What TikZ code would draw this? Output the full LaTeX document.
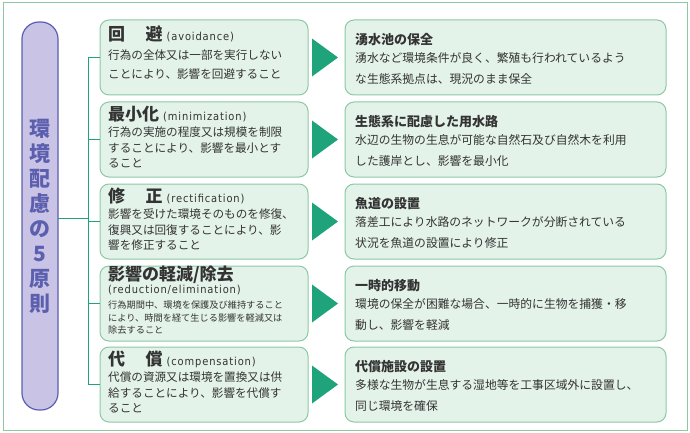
\documentclass[tikz,border=0pt]{standalone}
\usepackage{fontspec}
\setmainfont{Noto Sans CJK JP}
\newfontfamily\latn{DejaVu Sans Condensed}
\begin{document}
\begin{tikzpicture}[x=1pt,y=-1pt,
  bx/.style={draw=boxline,fill=boxfill,rounded corners=9pt,line width=1pt},
  tri/.style={fill=trig,draw=none},
  tl/.style={anchor=north west,inner sep=0pt,text=txt,align=left},
  ln/.style={draw=trig,line width=1pt}]
\definecolor{boxline}{HTML}{8CC8A4}
\definecolor{boxfill}{HTML}{E4F3E9}
\definecolor{trig}{HTML}{1FA37A}
\definecolor{txt}{HTML}{333333}
\definecolor{pur}{HTML}{5C5FAE}
\definecolor{purfill}{HTML}{C9C3E6}
\useasboundingbox (0,0) rectangle (690,433);
\draw[draw=boxline,line width=1pt] (3,3) rectangle (687,430);
\draw[draw=pur,fill=purfill,rounded corners=17pt,line width=1.2pt] (22,22) rectangle (58,410);
\node[text=pur,align=center,font=\bfseries\fontsize{21}{25}\selectfont] (title) at (40,216) {環\\境\\配\\慮\\の\\5\\原\\則};
\coordinate (j) at (88,218);
\coordinate (jt) at (88,58);
\coordinate (jb) at (88,384);
\draw[ln] (58,218) -- (j);
\draw[ln] (jt) -- (jb);
\foreach \i/\t in {1/20,2/102,3/184,4/266,5/347}{
  \pgfmathsetmacro{\b}{\t+75}
  \pgfmathsetmacro{\c}{\t+37.5}
  \draw[bx] (100,\t) rectangle (308,\b);
  \draw[bx] (345,\t) rectangle (666,\b);
  \fill[tri] (312,\c-19) -- (338,\c) -- (312,\c+19) -- cycle;
  \draw[ln] (88,\c) -- (100,\c);
}
\tikzset{bs/.style={font=\fontsize{11.6}{15.5}\selectfont},
 bsl/.style={font=\fontsize{11.6}{19}\selectfont},
 rb/.style={font=\fontsize{11.8}{21}\selectfont},
 rh/.style={font=\bfseries\fontsize{13}{16}\selectfont}}
\def\hs{\bfseries\fontsize{17}{19}\selectfont}
\def\en#1{{\latn\fontsize{11}{13}\selectfont\addfontfeature{LetterSpace=8}\ (#1)}}
% left
\node[tl] (l1h) at (108,26) {{\hs 回\hspace{1.2em}避}\en{avoidance}};
\node[tl,bsl] (l1b) at (108,50) {行為の全体又は一部を実行しない\\ことにより、影響を回避すること};
\node[tl] (l2h) at (108,106) {{\hs 最小化}\en{minimization}};
\node[tl,bs] (l2b) at (108,127) {行為の実施の程度又は規模を制限\\することにより、影響を最小とす\\ること};
\node[tl] (l3h) at (108,188) {{\hs 修\hspace{1.2em}正}\en{rectification}};
\node[tl,bs] (l3b) at (108,209) {影響を受けた環境そのものを修復、\\復興又は回復することにより、影\\響を修正すること};
\node[tl] (l4h) at (108,266) {{\hs 影響の軽減/除去}};
\node[tl] (l4e) at (108,285) {\latn\fontsize{11}{13}\selectfont\addfontfeature{LetterSpace=8}(reduction/elimination)};
\node[tl,font=\fontsize{9.2}{12.5}\selectfont] (l4b) at (108,301) {行為期間中、環境を保護及び維持すること\\により、時間を経て生じる影響を軽減又は\\除去すること};
\node[tl] (l5h) at (108,351) {{\hs 代\hspace{1.2em}償}\en{compensation}};
\node[tl,bs] (l5b) at (108,372) {代償の資源又は環境を置換又は供\\給することにより、影響を代償す\\ること};
% right
\node[tl,rh] (r1h) at (355,33) {湧水池の保全};
\node[tl,rb] (r1b) at (355,52) {湧水など環境条件が良く、繁殖も行われているよう\\な生態系拠点は、現況のまま保全};
\node[tl,rh] (r2h) at (355,115) {生態系に配慮した用水路};
\node[tl,rb] (r2b) at (355,134) {水辺の生物の生息が可能な自然石及び自然木を利用\\した護岸とし、影響を最小化};
\node[tl,rh] (r3h) at (355,197) {魚道の設置};
\node[tl,rb] (r3b) at (355,216) {落差工により水路のネットワークが分断されている\\状況を魚道の設置により修正};
\node[tl,rh] (r4h) at (355,279) {一時的移動};
\node[tl,rb] (r4b) at (355,298) {環境の保全が困難な場合、一時的に生物を捕獲・移\\動し、影響を軽減};
\node[tl,rh] (r5h) at (355,360) {代償施設の設置};
\node[tl,rb] (r5b) at (355,379) {多様な生物が生息する湿地等を工事区域外に設置し、\\同じ環境を確保};
\end{tikzpicture}
\end{document}
